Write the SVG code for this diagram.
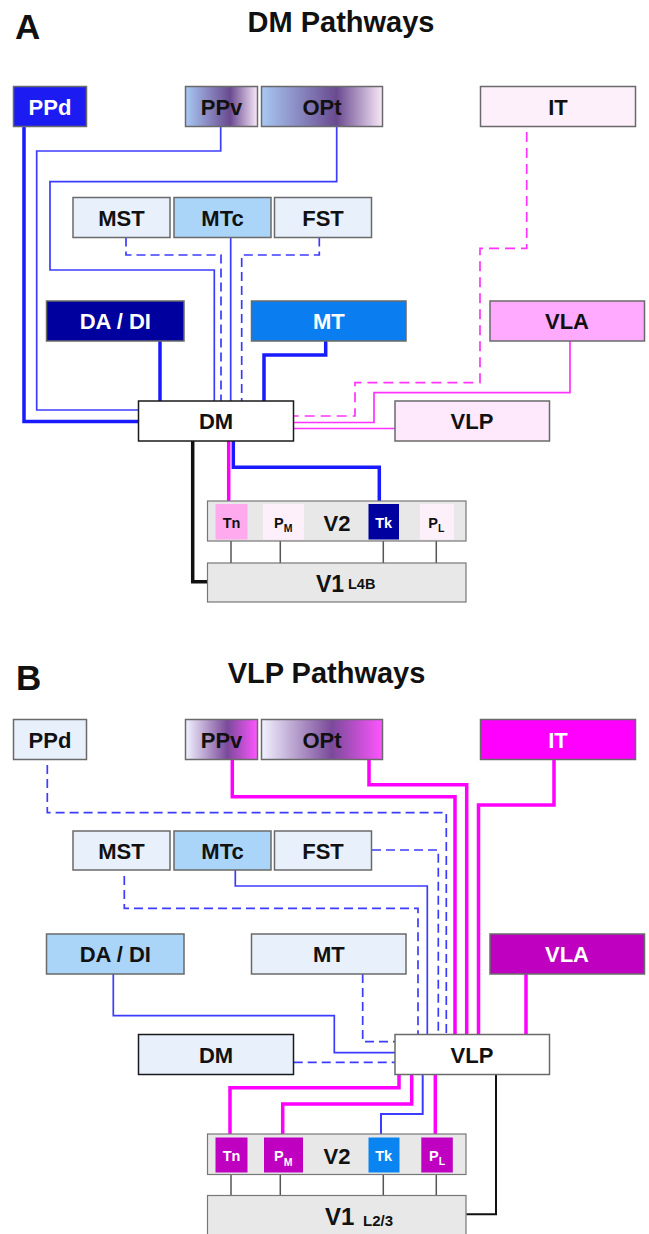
<svg xmlns="http://www.w3.org/2000/svg" width="649" height="1234" viewBox="0 0 649 1234">
<style>
text{font-family:"Liberation Sans",Arial,sans-serif;font-weight:bold;fill:#111}
.lbl{font-size:22px;text-anchor:middle}
.w{fill:#fff}
.sm{font-size:14.5px}
.nb{stroke:#6a6a6a;stroke-width:1.5}
.dk{stroke:#1a1a1a;stroke-width:1.5}
.bar{fill:#e8e8e8;stroke:#777;stroke-width:1.2}
path{fill:none}
.tb{stroke:#1a1aff;stroke-width:3.5}
.thb{stroke:#3c3cff;stroke-width:1.7}
.db{stroke:#3c3cff;stroke-width:1.7;stroke-dasharray:9 5}
.tp{stroke:#ff00ff;stroke-width:3.5}
.thp{stroke:#ff33ff;stroke-width:1.7}
.dp{stroke:#ff33ff;stroke-width:1.7;stroke-dasharray:10 6}
.tk{stroke:#111;stroke-width:3.5}
.bk{stroke:#111;stroke-width:2}
.gl{stroke:#555;stroke-width:1.5}
</style>
<defs>
<linearGradient id="gA" x1="0" y1="0" x2="1" y2="0">
<stop offset="0" stop-color="#a8c8f2"/><stop offset="0.62" stop-color="#6a4a90"/><stop offset="1" stop-color="#f8e8f8"/>
</linearGradient>
<linearGradient id="gB" x1="0" y1="0" x2="1" y2="0">
<stop offset="0" stop-color="#f2f2ff"/><stop offset="0.58" stop-color="#7a4a9a"/><stop offset="1" stop-color="#ff55ff"/>
</linearGradient>
</defs>
<rect width="649" height="1234" fill="#fff"/>

<!-- Panel A titles -->
<text x="15" y="39" font-size="35">A</text>
<text x="341" y="32" font-size="29" text-anchor="middle">DM Pathways</text>

<g id="connectorsA">
<path class="tb" d="M24,126.5 V421.5 H138.5"/>
<path class="thb" d="M220.7,126.5 V151 H36.7 V410 H138.5"/>
<path class="thb" d="M336.7,126.5 V181.7 H50 V270 H214.3 V401"/>
<path class="db" d="M126,237.5 V255 H221 V401"/>
<path class="thb" d="M230.7,237.5 V401"/>
<path class="db" d="M319.3,237.5 V255 H241.7 V401"/>
<path class="tb" d="M160,341 V401"/>
<path class="tb" d="M325.7,341 V355 H264 V401"/>
<path class="dp" d="M526.7,132 V248.3 H480 V382.7 H355 V416 H293.5"/>
<path class="thp" d="M570,341 V392.7 H374 V422.5 H293.5"/>
<path class="thp" d="M395,428.5 H293.5"/>
<path class="tp" d="M228.7,441 V504"/>
<path class="tb" d="M233.3,441 V467.3 H379.3 V504"/>
<path class="tk" d="M192.7,441 V581.7 H207.5"/>
<path class="gl" d="M231,541 V563 M280.3,541 V563 M383.3,541 V563 M436.3,541 V563"/>
</g>

<g id="A-PPd"><rect x="13.5" y="86.5" width="73" height="40" fill="#1c1cf2" class="nb"/><text class="lbl w" x="50" y="114.5">PPd</text></g>
<g id="A-PPv"><rect x="185.5" y="86.5" width="72" height="40" fill="url(#gA)" class="nb"/><text class="lbl" x="221.5" y="114.5">PPv</text></g>
<g id="A-OPt"><rect x="261.5" y="86.5" width="121" height="40" fill="url(#gA)" class="nb"/><text class="lbl" x="322" y="114.5">OPt</text></g>
<g id="A-IT"><rect x="480.5" y="86.5" width="155" height="40" fill="#fdf0fb" class="nb"/><text class="lbl" x="558" y="114.5">IT</text></g>
<g id="A-MST"><rect x="73" y="197.5" width="97" height="40" fill="#e8f0fc" class="nb"/><text class="lbl" x="121.5" y="226">MST</text></g>
<g id="A-MTc"><rect x="174" y="197.5" width="97" height="40" fill="#aad4f8" class="nb"/><text class="lbl" x="222.5" y="226">MTc</text></g>
<g id="A-FST"><rect x="274.5" y="197.5" width="97" height="40" fill="#e8f0fc" class="nb"/><text class="lbl" x="323" y="226">FST</text></g>
<g id="A-DADI"><rect x="46.5" y="301" width="137.5" height="40" fill="#00009e" class="nb"/><text class="lbl w" x="115.3" y="329">DA / DI</text></g>
<g id="A-MT"><rect x="251.5" y="301" width="154.5" height="40" fill="#0a7ef0" class="nb"/><text class="lbl w" x="328.8" y="329">MT</text></g>
<g id="A-VLA"><rect x="490" y="301" width="154.5" height="40" fill="#ffaaff" class="nb"/><text class="lbl" x="567" y="329">VLA</text></g>
<g id="A-DM"><rect x="138.5" y="401" width="155" height="40" fill="#fff" class="dk"/><text class="lbl" x="216" y="429">DM</text></g>
<g id="A-VLP"><rect x="395" y="401" width="154.5" height="40" fill="#fde8fc" class="nb"/><text class="lbl" x="472" y="429">VLP</text></g>
<g id="A-V2">
<rect x="207.5" y="501" width="258.5" height="40" class="bar"/>
<rect x="215.5" y="504" width="32" height="35.5" fill="#ffaaee"/>
<text class="sm" x="231.5" y="527.5" text-anchor="middle">Tn</text>
<rect x="263" y="504" width="41" height="35.5" fill="#fdf0fb"/>
<text class="sm" x="274" y="527.5">P<tspan font-size="10.5" dy="4.5">M</tspan></text>
<text x="337" y="531" font-size="22" text-anchor="middle">V2</text>
<rect x="368.5" y="504" width="30.5" height="35.5" fill="#00009e"/>
<text class="sm w" x="383.7" y="527.5" text-anchor="middle">Tk</text>
<rect x="420" y="504" width="34" height="35.5" fill="#fdf0fb"/>
<text class="sm" x="428.3" y="527.5">P<tspan font-size="10.5" dy="4.5">L</tspan></text>
</g>
<g id="A-V1">
<rect x="207.5" y="563" width="258.5" height="39" class="bar"/>
<text x="316" y="592" font-size="23">V1</text>
<text x="348" y="588.5" font-size="14.5">L4B</text>
</g>

<!-- Panel B -->
<text x="16" y="690" font-size="35">B</text>
<text x="326.5" y="683" font-size="29" text-anchor="middle">VLP Pathways</text>

<g id="connectorsB">
<path class="db" d="M47.3,765 V812.7 H446.3 V1034.5"/>
<path class="db" d="M372,850 H438.3 V1034.5"/>
<path class="thb" d="M235.3,870 V886 H427.3 V1034.5"/>
<path class="db" d="M124.3,876 V908.3 H418 V1034.5"/>
<path class="tp" d="M232.3,759.5 V796.7 H455 V1034.5"/>
<path class="tp" d="M369,759.5 V784.7 H466.7 V1034.5"/>
<path class="tp" d="M554,759 V805 H478.5 V1034.5"/>
<path class="db" d="M362.7,974 V1041.7 H395"/>
<path class="thb" d="M113.3,974 V1015.7 H334.3 V1052.7 H395"/>
<path class="db" d="M293.7,1062.3 H395"/>
<path class="tp" d="M526,974 V1034.5"/>
<path class="tp" d="M399,1074.5 V1087.7 H230 V1137.5"/>
<path class="tp" d="M411.7,1074.5 V1104 H282.7 V1137.5"/>
<path class="thb" style="stroke-width:2" d="M422.7,1074.5 V1114 H381 V1137.5"/>
<path class="tp" d="M435.3,1074.5 V1137.5"/>
<path class="bk" d="M496,1074.5 V1214.3 H466.3"/>
<path class="gl" d="M231,1174.5 V1195.5 M280.3,1174.5 V1195.5 M383.3,1174.5 V1195.5 M436.3,1174.5 V1195.5"/>
</g>

<g id="B-PPd"><rect x="13.5" y="719.5" width="73" height="40" fill="#e8f0fc" class="nb"/><text class="lbl" x="50" y="747.5">PPd</text></g>
<g id="B-PPv"><rect x="185.5" y="719.5" width="72" height="40" fill="url(#gB)" class="nb"/><text class="lbl" x="221.5" y="747.5">PPv</text></g>
<g id="B-OPt"><rect x="261.5" y="719.5" width="121" height="40" fill="url(#gB)" class="nb"/><text class="lbl" x="322" y="747.5">OPt</text></g>
<g id="B-IT"><rect x="480.5" y="719.5" width="155" height="40" fill="#ff00ff" class="nb"/><text class="lbl w" x="558" y="747.5">IT</text></g>
<g id="B-MST"><rect x="73" y="831" width="97" height="39" fill="#e8f0fc" class="nb"/><text class="lbl" x="121.5" y="859">MST</text></g>
<g id="B-MTc"><rect x="174" y="831" width="97" height="39" fill="#aad4f8" class="nb"/><text class="lbl" x="222.5" y="859">MTc</text></g>
<g id="B-FST"><rect x="274.5" y="831" width="97" height="39" fill="#e8f0fc" class="nb"/><text class="lbl" x="323" y="859">FST</text></g>
<g id="B-DADI"><rect x="46.5" y="934" width="137.5" height="40" fill="#aad4f8" class="nb"/><text class="lbl" x="115.3" y="962">DA / DI</text></g>
<g id="B-MT"><rect x="251.5" y="934" width="154.5" height="40" fill="#e8f0fc" class="nb"/><text class="lbl" x="328.8" y="962">MT</text></g>
<g id="B-VLA"><rect x="490" y="934" width="154.5" height="40" fill="#c000c0" class="nb"/><text class="lbl w" x="567" y="962">VLA</text></g>
<g id="B-DM"><rect x="138.5" y="1034.5" width="155" height="40" fill="#e8f0fc" class="dk"/><text class="lbl" x="216" y="1062.5">DM</text></g>
<g id="B-VLP"><rect x="395" y="1034.5" width="154.5" height="40" fill="#fff" class="nb"/><text class="lbl" x="472" y="1062.5">VLP</text></g>
<g id="B-V2">
<rect x="207.5" y="1134" width="258.5" height="40.5" class="bar"/>
<rect x="215.5" y="1137.5" width="32" height="35" fill="#c000c0"/>
<text class="sm w" x="231.5" y="1161" text-anchor="middle">Tn</text>
<rect x="264" y="1137.5" width="39" height="35" fill="#c000c0"/>
<text class="sm w" x="274" y="1161">P<tspan font-size="10.5" dy="4.5">M</tspan></text>
<text x="337" y="1163.5" font-size="22" text-anchor="middle">V2</text>
<rect x="368.5" y="1137.5" width="31" height="35" fill="#0a84f0"/>
<text class="sm w" x="383.7" y="1160.5" text-anchor="middle">Tk</text>
<rect x="421.3" y="1137.5" width="31.5" height="35" fill="#c000c0"/>
<text class="sm w" x="429" y="1160.5">P<tspan font-size="10.5" dy="4.5">L</tspan></text>
</g>
<g id="B-V1">
<rect x="207.5" y="1195.5" width="258.5" height="45" class="bar"/>
<text x="325" y="1225" font-size="24">V1</text>
<text x="363" y="1226" font-size="15">L2/3</text>
</g>
</svg>
